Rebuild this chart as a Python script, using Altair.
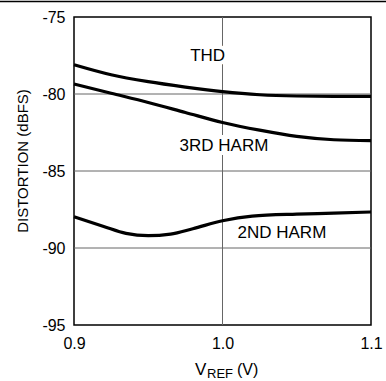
import altair as alt
import pandas as pd

# Data
vref = [0.9, 0.925, 0.95, 0.975, 1.0, 1.025, 1.05, 1.075, 1.1]
thd = [-78.1, -78.75, -79.2, -79.55, -79.85, -80.05, -80.13, -80.15, -80.15]
h3 = [-79.35, -79.95, -80.55, -81.2, -81.85, -82.35, -82.75, -82.97, -83.03]

vref2 = [0.9, 0.92, 0.935, 0.95, 0.965, 0.98, 1.0, 1.02, 1.05, 1.075, 1.1]
h2 = [-87.97, -88.6, -89.05, -89.2, -89.1, -88.75, -88.23, -87.93, -87.8, -87.74, -87.66]

label_text = ["THD", "3RD HARM", "2ND HARM"]
label_x = [0.990, 1.001, 1.040]
label_y = [-77.53, -83.36, -89.05]

x_ticks = [0.9, 1.0, 1.1]
y_ticks = [-95, -90, -85, -80, -75]
grid_x = [1.0]
grid_y = [-90, -85, -80]

FONT = "Liberation Sans"

rows = []
for v, a in zip(vref, thd):
    rows.append({"V": v, "D": a, "s": "THD"})
for v, a in zip(vref, h3):
    rows.append({"V": v, "D": a, "s": "3RD"})
for v, a in zip(vref2, h2):
    rows.append({"V": v, "D": a, "s": "2ND"})
df = pd.DataFrame(rows)
labels = pd.DataFrame({"t": label_text, "V": label_x, "D": label_y})

xscale = alt.Scale(domain=[0.9, 1.1], nice=False, zero=False)
yscale = alt.Scale(domain=[-95, -75], nice=False, zero=False)

xaxis = alt.Axis(values=x_ticks, format=".1f", title=None, ticks=False, domain=False,
                 labelFont=FONT, labelFontSize=16, labelColor="black", labelPadding=10,
                 grid=False, labelFlush=False)
yaxis = alt.Axis(values=y_ticks, title=None, ticks=False, domain=False,
                 labelExpr="datum.value < 0 ? '-' + abs(datum.value) : '' + datum.value",
                 labelFont=FONT, labelFontSize=16, labelColor="black", labelPadding=9,
                 grid=False)

gx = alt.Chart(pd.DataFrame({"g": grid_x})).mark_rule(color="#666666", strokeWidth=1).encode(
    x=alt.X("g:Q", scale=xscale, axis=xaxis))
gy = alt.Chart(pd.DataFrame({"g": grid_y})).mark_rule(color="#666666", strokeWidth=1).encode(
    y=alt.Y("g:Q", scale=yscale, axis=yaxis))

lines = alt.Chart(df).mark_line(color="black", strokeWidth=3.2, interpolate="monotone").encode(
    x=alt.X("V:Q", scale=xscale, axis=xaxis),
    y=alt.Y("D:Q", scale=yscale, axis=yaxis),
    detail="s:N",
)

halo = alt.Chart(labels).mark_text(font=FONT, fontSize=17, color="white", stroke="white",
                                   strokeWidth=8, align="center", baseline="middle").encode(
    x=alt.X("V:Q", scale=xscale, axis=xaxis), y=alt.Y("D:Q", scale=yscale, axis=yaxis),
    text="t:N")
txt = alt.Chart(labels).mark_text(font=FONT, fontSize=17, color="black",
                                  align="center", baseline="middle").encode(
    x=alt.X("V:Q", scale=xscale, axis=xaxis), y=alt.Y("D:Q", scale=yscale, axis=yaxis),
    text="t:N")

one = pd.DataFrame({"k": [0]})
top_rule = alt.Chart(one).mark_rule(color="black", strokeWidth=1.5).encode(
    x=alt.value(-74), x2=alt.value(312), y=alt.value(-15.5))

y_title = alt.Chart(one).mark_text(font=FONT, fontSize=15, color="black", align="center",
                                   baseline="alphabetic", angle=270).encode(
    x=alt.value(-46), y=alt.value(144), text=alt.value("DISTORTION (dBFS)"))

t_v = alt.Chart(one).mark_text(font=FONT, fontSize=17, color="black", align="left",
                               baseline="alphabetic").encode(
    x=alt.value(121), y=alt.value(358), text=alt.value("V"))
t_ref = alt.Chart(one).mark_text(font=FONT, fontSize=13, color="black", align="left",
                                 baseline="alphabetic").encode(
    x=alt.value(133), y=alt.value(361), text=alt.value("REF"))
t_unit = alt.Chart(one).mark_text(font=FONT, fontSize=16, color="black", align="left",
                                  baseline="alphabetic").encode(
    x=alt.value(163), y=alt.value(358), text=alt.value("(V)"))

chart = alt.layer(gx, gy, halo, lines, txt, top_rule, y_title, t_v, t_ref, t_unit).properties(
    width=297, height=308,
    autosize=alt.AutoSizeParams(type="none"),
    padding={"left": 74, "top": 17, "right": 15, "bottom": 56},
).configure_view(stroke="black", strokeWidth=1.5)

chart.save("out.html", embed_options={"renderer": "svg", "actions": False})
